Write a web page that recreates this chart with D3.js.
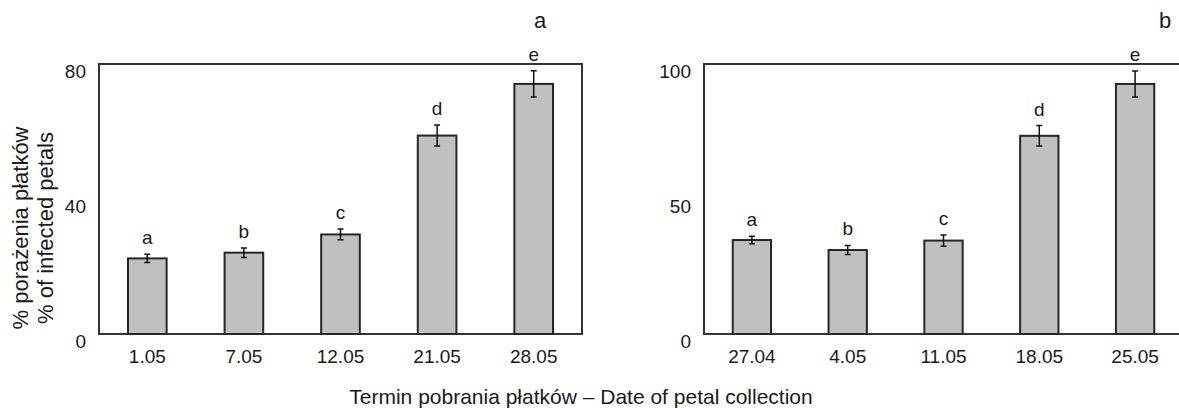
<!DOCTYPE html>
<html>
<head>
<meta charset="utf-8">
<script src="https://cdn.jsdelivr.net/npm/d3@7"></script>
<style>
    body { margin: 0; background: #fff; }
    svg text { font-family: "Liberation Sans", Arial, sans-serif; fill: #1a1a1a; }
</style>
</head>
<body>
<svg class="chart"></svg>
<script>
// panel a
var datesA = ["1.05", "7.05", "12.05", "21.05", "28.05"];
var valuesA = [22.4, 24.1, 29.5, 58.8, 74.1];
var errorsA = [1.2, 1.4, 1.6, 3.1, 3.9];
var ticksA = [0, 40, 80];

// panel b
var datesB = ["27.04", "4.05", "11.05", "18.05", "25.05"];
var valuesB = [34.8, 31.1, 34.6, 73.4, 92.6];
var errorsB = [1.4, 1.7, 2.1, 3.8, 4.8];
var ticksB = [0, 50, 100];

var letters = ["a", "b", "c", "d", "e"];

var width = 1179,
    height = 408,
    plotTop = 64,
    plotBottom = 334;

var chart = d3.select(".chart")
    .attr("width", width)
    .attr("height", height);

function drawPanel(opts) {

    var data = [],
        x,
        y,
        g,
        bar;

    for (var i = 0; i < opts.dates.length; i++) {
        data.push({
            date: opts.dates[i],
            value: opts.values[i],
            err: opts.errors[i],
            letter: letters[i]
        });
    }

    x = d3.scaleBand()
        .domain(opts.dates)
        .range([opts.left, opts.right])
        .paddingInner(0.6)
        .paddingOuter(0.3);

    y = d3.scaleLinear()
        .domain([0, opts.max])
        .range([plotBottom, plotTop]);

    g = chart.append("g");

    // frame
    g.append("rect")
        .attr("x", opts.left)
        .attr("y", plotTop)
        .attr("width", opts.frameRight - opts.left)
        .attr("height", plotBottom - plotTop)
        .attr("fill", "none")
        .attr("stroke", "#333")
        .attr("stroke-width", 2);

    bar = g.selectAll("g.bar")
        .data(data)
        .enter().append("g")
        .attr("class", "bar");

    bar.append("rect")
        .attr("x", function(d) { return x(d.date); })
        .attr("y", function(d) { return y(d.value); })
        .attr("width", x.bandwidth())
        .attr("height", function(d) { return plotBottom - y(d.value); })
        .attr("fill", "#c0c0c0")
        .attr("stroke", "#262626")
        .attr("stroke-width", 2);

    // error bars
    bar.append("path")
        .attr("d", function(d) {
            var cx = x(d.date) + x.bandwidth() / 2,
                y1 = y(d.value + d.err),
                y0 = y(d.value - d.err);
            return "M" + (cx - 3) + "," + y1 + "H" + (cx + 3) +
                "M" + cx + "," + y1 + "V" + y0 +
                "M" + (cx - 3) + "," + y0 + "H" + (cx + 3);
        })
        .attr("fill", "none")
        .attr("stroke", "#111")
        .attr("stroke-width", 1.5);

    bar.append("text")
        .attr("x", function(d) { return x(d.date) + x.bandwidth() / 2; })
        .attr("y", function(d) { return y(d.value + d.err) - 10; })
        .attr("text-anchor", "middle")
        .style("font-size", "19px")
        .text(function(d) { return d.letter; });

    g.append("g")
        .attr("transform", "translate(" + opts.left + ",0)")
        .call(d3.axisLeft(y).tickValues(opts.ticks).tickSize(0).tickPadding(13))
        .call(function(a) {
            a.select(".domain").remove();
            a.attr("font-family", null).attr("font-size", null);
            a.selectAll("text").attr("dy", "13px").style("font-size", "19px");
        });

    g.append("g")
        .attr("transform", "translate(0," + plotBottom + ")")
        .call(d3.axisBottom(x).tickSize(0).tickPadding(15.5))
        .call(function(a) {
            a.select(".domain").remove();
            a.attr("font-family", null).attr("font-size", null);
            a.selectAll("text").style("font-size", "19px");
        });

    g.append("text")
        .attr("x", opts.titleX)
        .attr("y", 28)
        .attr("text-anchor", "middle")
        .style("font-size", "22px")
        .text(opts.title);
}

drawPanel({
    dates: datesA, values: valuesA, errors: errorsA, ticks: ticksA, max: 80,
    left: 99, right: 582, frameRight: 582, title: "a", titleX: 540
});

drawPanel({
    dates: datesB, values: valuesB, errors: errorsB, ticks: ticksB, max: 100,
    left: 704, right: 1183, frameRight: 1200, title: "b", titleX: 1165
});

// y title, two lines
chart.append("text")
    .attr("transform", "translate(28,228) rotate(-90)")
    .attr("text-anchor", "middle")
    .style("font-size", "22px")
    .text("% porażenia płatków");

chart.append("text")
    .attr("transform", "translate(53,228) rotate(-90)")
    .attr("text-anchor", "middle")
    .style("font-size", "22px")
    .text("% of infected petals");

chart.append("text")
    .attr("x", 581)
    .attr("y", 404)
    .attr("text-anchor", "middle")
    .style("font-size", "21px")
    .text("Termin pobrania płatków – Date of petal collection");
</script>
</body>
</html>
